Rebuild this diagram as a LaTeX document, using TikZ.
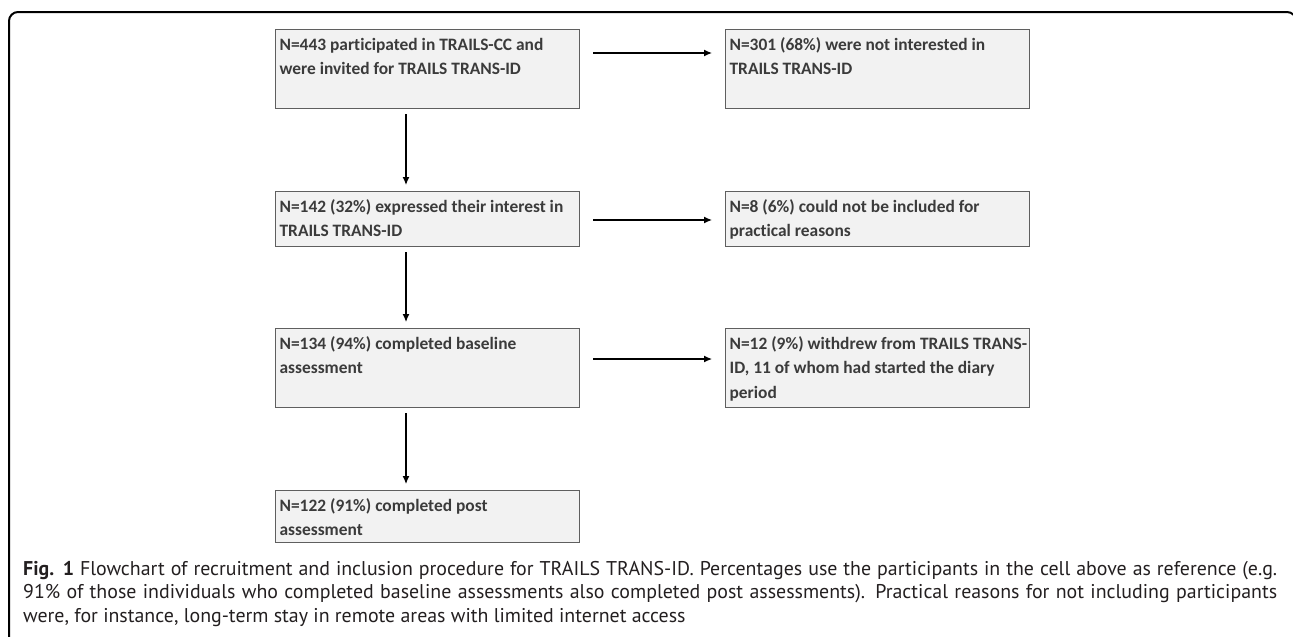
\documentclass[tikz,border=0pt]{standalone}
\usepackage{fontspec}
\setmainfont{PT Sans}
\newfontfamily\cellfont{Carlito}[Ligatures=NoCommon]
\usetikzlibrary{arrows.meta}
\definecolor{cellfill}{HTML}{F2F2F2}
\definecolor{cellline}{HTML}{5F5F5F}
\definecolor{celltext}{HTML}{3B3B3B}
\definecolor{captext}{HTML}{231F20}
\newcommand{\flowtext}[2]{\parbox[t][#1][t]{296pt}{\raggedright\rule{0pt}{20.5pt}#2}}

\begin{document}
\begin{tikzpicture}[x=1pt,y=-1pt,
    cell/.style={draw=cellline,fill=cellfill,line width=1.2pt,anchor=north west,
      inner xsep=4pt,inner ysep=0pt,text=celltext,
      font=\cellfont\bfseries\fontsize{17.4}{24.5}\selectfont},
    flow/.style={line width=1.2pt,-{Latex[length=8pt,width=7pt]}}]
 \useasboundingbox (0,0) rectangle (1293,637);
 \clip (0,0) rectangle (1293,637);
 \draw[line width=2pt,rounded corners=9pt] (9,650) -- (9,12) -- (1296,12) -- (1296,650);
 % left column
 \node[cell] (b1) at (275,29) {\flowtext{79pt}{N=443 participated in TRAILS-CC and\\were invited for TRAILS TRANS-ID}};
 \node[cell] (b3) at (275,191) {\flowtext{55pt}{\mbox{N=142 (32\%) expressed their interest in}\\TRAILS TRANS-ID}};
 \node[cell] (b5) at (275,328) {\flowtext{79pt}{N=134 (94\%) completed baseline\\assessment}};
 \node[cell] (b7) at (275,490) {\flowtext{52pt}{N=122 (91\%) completed post\\assessment}};
 % right column
 \node[cell] (b2) at (725,29) {\flowtext{79pt}{N=301 (68\%) were not interested in\\TRAILS TRANS-ID}};
 \node[cell] (b4) at (725,191) {\flowtext{55pt}{N=8 (6\%) could not be included for\\practical reasons}};
 \node[cell] (b6) at (725,328) {\flowtext{79pt}{\mbox{N=12 (9\%) withdrew from TRAILS TRANS-}\\ID, 11 of whom had started the diary\\period}};
 \foreach \A/\B in {b1/b3,b3/b5,b5/b7}
  \draw[flow,shorten <=5pt,shorten >=6pt] ([xshift=131pt]\A.south west) -- ([xshift=131pt]\B.north west);
 \foreach \A/\B/\Y in {b1/b2/24,b3/b4/29,b5/b6/31}
  \draw[flow,shorten <=13pt,shorten >=13pt] ([yshift=-\Y pt]\A.north east) -- ([yshift=-\Y pt]\B.north west);
 % caption
 \node[anchor=base west,text width=1254pt,align=justify,inner sep=0pt,text=captext,
   font=\fontsize{19.9}{23.5}\selectfont] (cap) at (23,575)
  {\textbf{Fig. 1} Flowchart of recruitment and inclusion procedure for TRAILS TRANS-ID. Percentages use the participants in the cell above as reference (e.g.\linebreak
   91\% of those individuals who completed baseline assessments also completed post assessments). Practical reasons for not including participants\linebreak
   were, for instance, long-term stay in remote areas with limited internet access};
\end{tikzpicture}
\end{document}
